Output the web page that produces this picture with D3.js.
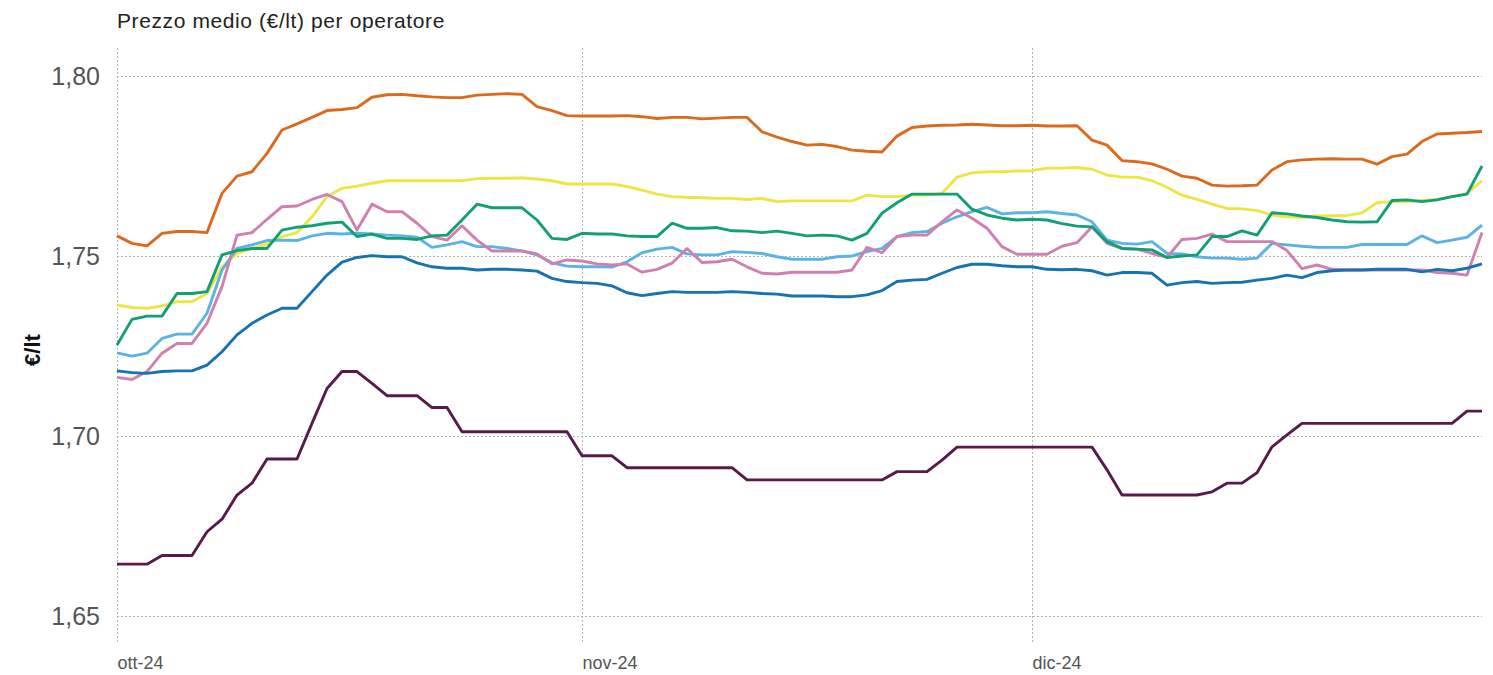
<!DOCTYPE html>
<html lang="it">
<head>
    <title>Prezzo medio per operatore</title>
    <meta charset="utf-8"/>
    <script src="https://d3js.org/d3.v7.min.js"></script>
    <style>
        body { margin: 0; background: #fff; }
        svg { font-family: "Liberation Sans", Arial, sans-serif; }
        .grid line { stroke: #b4b4b4; stroke-dasharray: 2,2; }
        .grid path { display: none; }
    </style>
</head>
<body>
<svg width="1493" height="675"></svg>

<script type="text/javascript">

    // giorni da ott-24 a fine dic-24
    const startDate = new Date(2024, 9, 1), endDate = new Date(2025, 0, 1);
    const days = d3.timeDay.range(startDate, endDate);

    const tickDates = [new Date(2024, 9, 1), new Date(2024, 10, 1), new Date(2024, 11, 1)];
    const tickLabels = ["ott-24", "nov-24", "dic-24"];
    const yTicks = [1.65, 1.70, 1.75, 1.80];

    // serie
    const seriesNames = ["A", "B", "C", "D", "E", "F", "G"];

    const operA = [1.7556, 1.7535, 1.7528, 1.7563, 1.7568, 1.7568, 1.7565, 1.7674, 1.7722, 1.7734,
        1.7785, 1.7850, 1.7867, 1.7885, 1.7904, 1.7907, 1.7912, 1.7941, 1.7948, 1.7949,
        1.7945, 1.7942, 1.7940, 1.7940, 1.7947, 1.7949, 1.7951, 1.7949, 1.7915, 1.7904,
        1.7890, 1.7889, 1.7889, 1.7889, 1.7890, 1.7887, 1.7882, 1.7885, 1.7885, 1.7881,
        1.7883, 1.7885, 1.7885, 1.7845, 1.7830, 1.7818, 1.7808, 1.7810, 1.7804, 1.7794,
        1.7791, 1.7789, 1.7833, 1.7857, 1.7861, 1.7863, 1.7864, 1.7866, 1.7864, 1.7862,
        1.7862, 1.7863, 1.7861, 1.7861, 1.7862, 1.7822, 1.7808, 1.7765, 1.7762, 1.7756,
        1.7741, 1.7722, 1.7716, 1.7697, 1.7694, 1.7695, 1.7697, 1.7739, 1.7762, 1.7767,
        1.7769, 1.7770, 1.7769, 1.7769, 1.7755, 1.7776, 1.7783, 1.7818, 1.7839, 1.7841,
        1.7843, 1.7846];

    const operB = [1.7364, 1.7357, 1.7355, 1.7361, 1.7373, 1.7373, 1.7396, 1.7470, 1.7507, 1.7521,
        1.7533, 1.7554, 1.7565, 1.7609, 1.7665, 1.7688, 1.7694, 1.7702, 1.7709, 1.7709,
        1.7709, 1.7709, 1.7709, 1.7709, 1.7715, 1.7716, 1.7716, 1.7717, 1.7714, 1.7709,
        1.7700, 1.7700, 1.7700, 1.7700, 1.7693, 1.7683, 1.7672, 1.7665, 1.7663, 1.7662,
        1.7660, 1.7660, 1.7657, 1.7660, 1.7651, 1.7653, 1.7653, 1.7653, 1.7653, 1.7653,
        1.7669, 1.7665, 1.7665, 1.7669, 1.7669, 1.7674, 1.7719, 1.7731, 1.7734, 1.7734,
        1.7736, 1.7737, 1.7744, 1.7744, 1.7746, 1.7741, 1.7725, 1.7719, 1.7719, 1.7709,
        1.7691, 1.7669, 1.7657, 1.7644, 1.7632, 1.7631, 1.7626, 1.7614, 1.7609, 1.7607,
        1.7611, 1.7612, 1.7612, 1.7620, 1.7648, 1.7651, 1.7651, 1.7654, 1.7657, 1.7665,
        1.7674, 1.7709];

    const operC = [1.7231, 1.7222, 1.7230, 1.7271, 1.7283, 1.7283, 1.7341, 1.7461, 1.7521, 1.7531,
        1.7543, 1.7544, 1.7543, 1.7556, 1.7563, 1.7561, 1.7563, 1.7561, 1.7558, 1.7556,
        1.7552, 1.7524, 1.7531, 1.7540, 1.7526, 1.7526, 1.7521, 1.7514, 1.7503, 1.7481,
        1.7472, 1.7470, 1.7470, 1.7469, 1.7484, 1.7509, 1.7519, 1.7524, 1.7506, 1.7503,
        1.7503, 1.7512, 1.7510, 1.7507, 1.7498, 1.7491, 1.7491, 1.7491, 1.7498, 1.7500,
        1.7512, 1.7521, 1.7554, 1.7565, 1.7568, 1.7591, 1.7609, 1.7623, 1.7635, 1.7617,
        1.7620, 1.7620, 1.7623, 1.7618, 1.7614, 1.7595, 1.7544, 1.7535, 1.7533, 1.7540,
        1.7507, 1.7506, 1.7498, 1.7494, 1.7494, 1.7491, 1.7494, 1.7535, 1.7531, 1.7527,
        1.7524, 1.7524, 1.7524, 1.7532, 1.7532, 1.7532, 1.7532, 1.7556, 1.7537, 1.7544,
        1.7552, 1.7586];

    const operD = [1.7163, 1.7157, 1.7179, 1.7230, 1.7257, 1.7257, 1.7313, 1.7415, 1.7558, 1.7565,
        1.7602, 1.7637, 1.7639, 1.7657, 1.7671, 1.7651, 1.7572, 1.7644, 1.7623, 1.7623,
        1.7591, 1.7554, 1.7544, 1.7584, 1.7544, 1.7514, 1.7514, 1.7514, 1.7506, 1.7478,
        1.7489, 1.7486, 1.7478, 1.7475, 1.7478, 1.7455, 1.7463, 1.7480, 1.7521, 1.7482,
        1.7484, 1.7491, 1.7470, 1.7452, 1.7450, 1.7455, 1.7455, 1.7455, 1.7455, 1.7461,
        1.7524, 1.7509, 1.7554, 1.7558, 1.7558, 1.7595, 1.7628, 1.7605, 1.7577, 1.7526,
        1.7505, 1.7505, 1.7505, 1.7527, 1.7537, 1.7581, 1.7535, 1.7521, 1.7519, 1.7507,
        1.7496, 1.7546, 1.7549, 1.7561, 1.7540, 1.7540, 1.7540, 1.7540, 1.7515, 1.7465,
        1.7475, 1.7463, 1.7461, 1.7461, 1.7461, 1.7461, 1.7461, 1.7461, 1.7454, 1.7452,
        1.7447, 1.7565];

    const operE = [1.7253, 1.7324, 1.7333, 1.7333, 1.7396, 1.7396, 1.7401, 1.7503, 1.7515, 1.7521,
        1.7521, 1.7572, 1.7580, 1.7584, 1.7591, 1.7594, 1.7554, 1.7561, 1.7549, 1.7549,
        1.7546, 1.7556, 1.7558, 1.7600, 1.7644, 1.7634, 1.7634, 1.7634, 1.7600, 1.7549,
        1.7546, 1.7563, 1.7561, 1.7561, 1.7556, 1.7554, 1.7554, 1.7591, 1.7577, 1.7577,
        1.7579, 1.7570, 1.7569, 1.7565, 1.7569, 1.7563, 1.7556, 1.7558, 1.7556, 1.7544,
        1.7563, 1.7619, 1.7648, 1.7672, 1.7672, 1.7672, 1.7672, 1.7630, 1.7614, 1.7605,
        1.7600, 1.7602, 1.7600, 1.7590, 1.7583, 1.7581, 1.7540, 1.7521, 1.7519, 1.7517,
        1.7496, 1.7500, 1.7503, 1.7554, 1.7554, 1.7570, 1.7558, 1.7620, 1.7617, 1.7611,
        1.7607, 1.7600, 1.7595, 1.7594, 1.7595, 1.7654, 1.7656, 1.7651, 1.7656, 1.7665,
        1.7672, 1.7750];

    const operF = [1.7181, 1.7176, 1.7174, 1.7179, 1.7181, 1.7181, 1.7197, 1.7234, 1.7281, 1.7313,
        1.7336, 1.7355, 1.7355, 1.7401, 1.7447, 1.7483, 1.7496, 1.7501, 1.7498, 1.7498,
        1.7481, 1.7470, 1.7466, 1.7466, 1.7461, 1.7463, 1.7463, 1.7461, 1.7458, 1.7438,
        1.7429, 1.7426, 1.7424, 1.7417, 1.7398, 1.7390, 1.7396, 1.7401, 1.7399, 1.7399,
        1.7399, 1.7401, 1.7399, 1.7396, 1.7394, 1.7389, 1.7389, 1.7389, 1.7387, 1.7387,
        1.7392, 1.7404, 1.7429, 1.7433, 1.7435, 1.7452, 1.7468, 1.7477, 1.7477, 1.7473,
        1.7470, 1.7470, 1.7463, 1.7462, 1.7463, 1.7459, 1.7447, 1.7454, 1.7454, 1.7452,
        1.7419, 1.7426, 1.7429, 1.7424, 1.7426, 1.7427, 1.7433, 1.7438, 1.7447, 1.7440,
        1.7454, 1.7459, 1.7461, 1.7461, 1.7463, 1.7463, 1.7463, 1.7456, 1.7463, 1.7459,
        1.7466, 1.7478];

    const operG = [1.6644, 1.6644, 1.6644, 1.6668, 1.6668, 1.6668, 1.6734, 1.6769, 1.6836, 1.6869,
        1.6936, 1.6936, 1.6936, 1.7035, 1.7132, 1.7179, 1.7179, 1.7146, 1.7112, 1.7112,
        1.7112, 1.7079, 1.7079, 1.7012, 1.7012, 1.7012, 1.7012, 1.7012, 1.7012, 1.7012,
        1.7012, 1.6945, 1.6945, 1.6945, 1.6912, 1.6912, 1.6912, 1.6912, 1.6912, 1.6912,
        1.6912, 1.6912, 1.6878, 1.6878, 1.6878, 1.6878, 1.6878, 1.6878, 1.6878, 1.6878,
        1.6878, 1.6878, 1.6901, 1.6901, 1.6901, 1.6933, 1.6969, 1.6969, 1.6969, 1.6969,
        1.6969, 1.6969, 1.6969, 1.6969, 1.6969, 1.6969, 1.6906, 1.6836, 1.6836, 1.6836,
        1.6836, 1.6836, 1.6836, 1.6845, 1.6869, 1.6869, 1.6898, 1.6970, 1.7003, 1.7035,
        1.7035, 1.7035, 1.7035, 1.7035, 1.7035, 1.7035, 1.7035, 1.7035, 1.7035, 1.7035,
        1.7069, 1.7069];

    // colori
    const orange = "#db6a1d", yellow = "#ede544", skyblue = "#5ab3e4", pink = "#cf80b0",
        green = "#11a076", blue = "#1772b0", purple = "#581a4a";

    // ordine di disegno
    const series = [
        {name: seriesNames[1], values: operB, color: yellow},
        {name: seriesNames[0], values: operA, color: orange},
        {name: seriesNames[2], values: operC, color: skyblue},
        {name: seriesNames[3], values: operD, color: pink},
        {name: seriesNames[4], values: operE, color: green},
        {name: seriesNames[5], values: operF, color: blue},
        {name: seriesNames[6], values: operG, color: purple}
    ];

    const left = 117, right = 1482, gridTop = 47, gridBottom = 642;

    const x = d3.scaleTime().domain([days[0], days[days.length - 1]]).range([left, right]);
    const y = d3.scaleLinear().domain([1.65, 1.80]).range([616, 76]);

    const itLocale = d3.formatLocale({decimal: ",", thousands: ".", grouping: [3], currency: ["€", ""]});
    const fmt = itLocale.format(".2f");

    const svg = d3.select("svg");

    // griglia verticale + etichette mesi
    const xAxis = d3.axisBottom(x)
        .tickValues(tickDates)
        .tickFormat((d, i) => tickLabels[i])
        .tickSize(-(gridBottom - gridTop))
        .tickPadding(14);

    svg.append("g")
        .attr("class", "grid")
        .attr("transform", "translate(0," + gridBottom + ")")
        .call(xAxis)
        .call(g => g.selectAll("text")
            .attr("text-anchor", "start")
            .style("font-size", "18px")
            .style("fill", "#555"));

    // griglia orizzontale + etichette
    const yAxis = d3.axisLeft(y)
        .tickValues(yTicks)
        .tickFormat(fmt)
        .tickSize(-(right - left))
        .tickPadding(17);

    svg.append("g")
        .attr("class", "grid")
        .attr("transform", "translate(" + left + ",0)")
        .call(yAxis)
        .call(g => g.selectAll("text")
            .style("font-size", "25px")
            .style("fill", "#555"));

    // linee
    const line = d3.line()
        .x((d, i) => x(days[i]))
        .y(d => y(d));

    svg.selectAll("path.serie")
        .data(series).enter()
        .append("path")
        .attr("class", "serie")
        .attr("d", d => line(d.values))
        .attr("fill", "none")
        .attr("stroke", d => d.color)
        .attr("stroke-width", 2.9)
        .attr("stroke-linejoin", "round");

    // titolo
    svg.append("text")
        .attr("x", left)
        .attr("y", 28)
        .style("font-size", "21px")
        .style("letter-spacing", "0.6px")
        .style("fill", "#222")
        .text("Prezzo medio (€/lt) per operatore");

    // titolo asse y
    svg.append("text")
        .attr("transform", "translate(40,350) rotate(-90)")
        .attr("text-anchor", "middle")
        .style("font-size", "22px")
        .style("font-weight", "bold")
        .style("fill", "#111")
        .text("€/lt");

</script>
</body>
</html>
